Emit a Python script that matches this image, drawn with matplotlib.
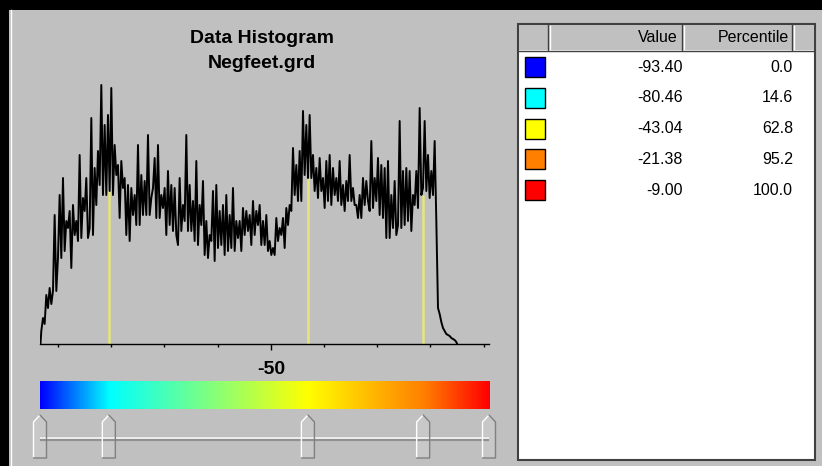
import numpy as np
import matplotlib.pyplot as plt
from matplotlib.colors import LinearSegmentedColormap
from matplotlib.patches import Rectangle, Polygon

plt.rcParams['font.family'] = ['Liberation Sans', 'DejaVu Sans']

# ---- data ----
titulo = "Data Histogram"
archivo = "Negfeet.grd"

valores_corte = [-93.40, -80.46, -43.04, -21.38, -9.00]
percentiles = [0.0, 14.6, 62.8, 95.2, 100.0]
colores_corte = ["#0000FF", "#00FFFF", "#FFFF00", "#FF8000", "#FF0000"]

ticks_x = [-90, -80, -70, -60, -50, -40, -30, -20, -10]
tick_etiqueta = -50

inicio_bin = -93.31
ancho_bin = 0.3133
conteos = [
    13, 26, 20, 49, 36, 56, 40, 53, 129, 53, 86, 149, 86, 166, 93, 123,
    116, 133, 76, 139, 109, 123, 103, 189, 106, 146, 133, 166, 106, 116,
    226, 109, 176, 139, 193, 159, 259, 149, 219, 149, 229, 153, 256, 149,
    199, 169, 179, 126, 183, 156, 166, 109, 159, 103, 156, 129, 149, 119,
    199, 119, 169, 129, 163,
    129, 209, 129, 146, 156, 186, 126, 199, 126, 149, 136, 156, 109, 173,
    119, 159, 113, 156, 109, 99, 166, 113, 139, 123, 209, 113, 159, 113,
    143, 103, 183, 99, 139, 119, 163, 89, 123, 86, 109, 103, 153, 83, 159,
    96, 133, 99, 139, 89, 149, 93, 129, 96, 156, 93, 123, 106, 123, 93,
    136, 109, 133, 113, 129,
    99, 143, 109, 133, 119, 139, 99, 123, 99, 129, 93, 103, 89, 96, 89, 126,
    103, 116, 109, 126, 96, 136, 119, 139, 133, 196, 149, 179, 143, 193,
    143, 233, 169, 219, 166, 229, 166, 189, 153, 176, 146, 186, 153, 166,
    136, 183, 143, 189, 139, 176, 149, 166, 143, 183, 139, 159, 133, 163,
    143, 189, 143, 156, 139, 139,
    126, 149, 126, 166, 139, 163, 143, 133, 203, 136, 166, 143, 186, 129,
    179, 126, 176, 106, 183, 106, 149, 116, 163, 109, 119, 223, 116, 173,
    119, 176, 123, 173, 113, 149, 139, 173, 136, 236, 149, 156, 223, 153,
    189, 146, 173, 149, 203, 123, 36, 30, 22, 16, 13, 10, 9, 8, 6, 5, 4, 2,
]

# ---- figure ----
W, H = 822, 466
GRIS = "#C0C0C0"
fig = plt.figure(figsize=(W / 100, H / 100), dpi=100, facecolor=GRIS)


def caja(x0, y0, x1, y1):
    """Convierte una caja en pixeles (origen arriba-izquierda) a fraccion de figura."""
    return [x0 / W, (H - y1) / H, (x1 - x0) / W, (y1 - y0) / H]


# fondo con coordenadas en pixeles
fondo = fig.add_axes([0, 0, 1, 1])
fondo.set_xlim(0, W)
fondo.set_ylim(H, 0)
fondo.axis("off")
fondo.add_patch(Rectangle((0, 0), W, H, facecolor=GRIS, edgecolor="none", zorder=0))
fondo.add_patch(Rectangle((0, 0), W, 10, facecolor="black", edgecolor="none"))
fondo.add_patch(Rectangle((0, 0), 9, H, facecolor="black", edgecolor="none"))
fondo.plot([10.5, 10.5], [10, H], color="white", lw=1)

# titulos
fondo.text(262, 43, titulo, ha="center", va="baseline", fontsize=14, fontweight="bold")
fondo.text(262, 68, archivo, ha="center", va="baseline", fontsize=14, fontweight="bold")

vmin, vmax = valores_corte[0], valores_corte[-1]

# ---- histograma ----
ax = fig.add_axes(caja(40, 84, 489, 344))
ax.set_facecolor("none")
bordes = inicio_bin + ancho_bin * np.arange(len(conteos) + 1)
centros = (bordes[:-1] + bordes[1:]) / 2
xs = np.concatenate([[bordes[0]], centros, [bordes[-1]]])
ys = np.concatenate([[0], conteos, [0]])
ax.plot(xs, ys, color="black", lw=1.4, zorder=3)

# lineas amarillas en los cortes interiores
for v in valores_corte[1:-1]:
    i = np.searchsorted(bordes, v) - 1
    alto = min(conteos[i - 1:i + 2])
    ax.plot([v, v], [0, alto], color="#E6E67A", lw=1.8, zorder=2, solid_capstyle="butt")

ax.set_xlim(vmin, vmax)
ax.set_ylim(0, 260)
for lado in ["top", "right", "left"]:
    ax.spines[lado].set_visible(False)
ax.spines["bottom"].set_linewidth(1.0)
ax.set_yticks([])
ax.set_xticks([tick_etiqueta])
ax.set_xticklabels([str(tick_etiqueta)], fontsize=14, fontweight="bold")
ax.set_xticks([t for t in ticks_x if t != tick_etiqueta], minor=True)
ax.tick_params(axis="x", which="major", length=4, width=1, pad=8)
ax.tick_params(axis="x", which="minor", length=2.5, width=1)

# ---- barra de color ----
posiciones = [(v - vmin) / (vmax - vmin) for v in valores_corte]
cmap = LinearSegmentedColormap.from_list("cortes", list(zip(posiciones, colores_corte)))
axc = fig.add_axes(caja(40, 381, 489, 409))
grad = np.linspace(vmin, vmax, 600)[None, :]
axc.imshow(grad, extent=[vmin, vmax, 0, 1], aspect="auto", cmap=cmap, vmin=vmin, vmax=vmax)
axc.axis("off")

# ---- deslizadores ----
axs = fig.add_axes(caja(40, 413, 489, 462))
axs.set_xlim(vmin, vmax)
axs.set_ylim(49, 0)
axs.axis("off")
px_unidad = 449 / (vmax - vmin)
hw = 6.5 / px_unidad
axs.plot([vmin, vmax], [25.5, 25.5], color="#909090", lw=3, solid_capstyle="butt")
axs.plot([vmin, vmax], [25, 25], color="white", lw=1.2, solid_capstyle="butt")
for v in valores_corte:
    pts = [(v - hw, 45), (v - hw, 9), (v, 2), (v + hw, 9), (v + hw, 45)]
    axs.add_patch(Polygon(pts, closed=True, facecolor="#C8C8C8", edgecolor="none", clip_on=False))
    axs.plot([v - hw, v - hw, v], [45, 9, 2], color="white", lw=1, clip_on=False)
    axs.plot([v, v + hw, v + hw, v - hw], [2, 9, 45, 45], color="#808080", lw=1, clip_on=False)

# ---- tabla ----
fondo.add_patch(Rectangle((518, 24), 297, 436, facecolor="white", edgecolor="#404040", lw=1.5))
fondo.add_patch(Rectangle((519, 25), 295, 25, facecolor=GRIS, edgecolor="none"))
fondo.plot([519, 814], [50.5, 50.5], color="#404040", lw=1)
for xd in [548, 682, 792]:
    fondo.plot([xd, xd], [25, 50], color="#404040", lw=1)
    fondo.plot([xd + 1.5, xd + 1.5], [26, 49], color="white", lw=1)
fondo.text(678, 38, "Value", ha="right", va="center", fontsize=11.5)
fondo.text(789, 38, "Percentile", ha="right", va="center", fontsize=11.5)

fila0, paso = 67, 30.8
for k, (v, p, c) in enumerate(zip(valores_corte, percentiles, colores_corte)):
    yc = fila0 + k * paso
    fondo.add_patch(Rectangle((525, yc - 10), 20, 20, facecolor=c, edgecolor="black", lw=1))
    fondo.text(683, yc, f"{v:.2f}", ha="right", va="center", fontsize=11.5)
    fondo.text(793, yc, f"{p:.1f}", ha="right", va="center", fontsize=11.5)

fig.savefig("out.png", dpi=100, facecolor=GRIS)
